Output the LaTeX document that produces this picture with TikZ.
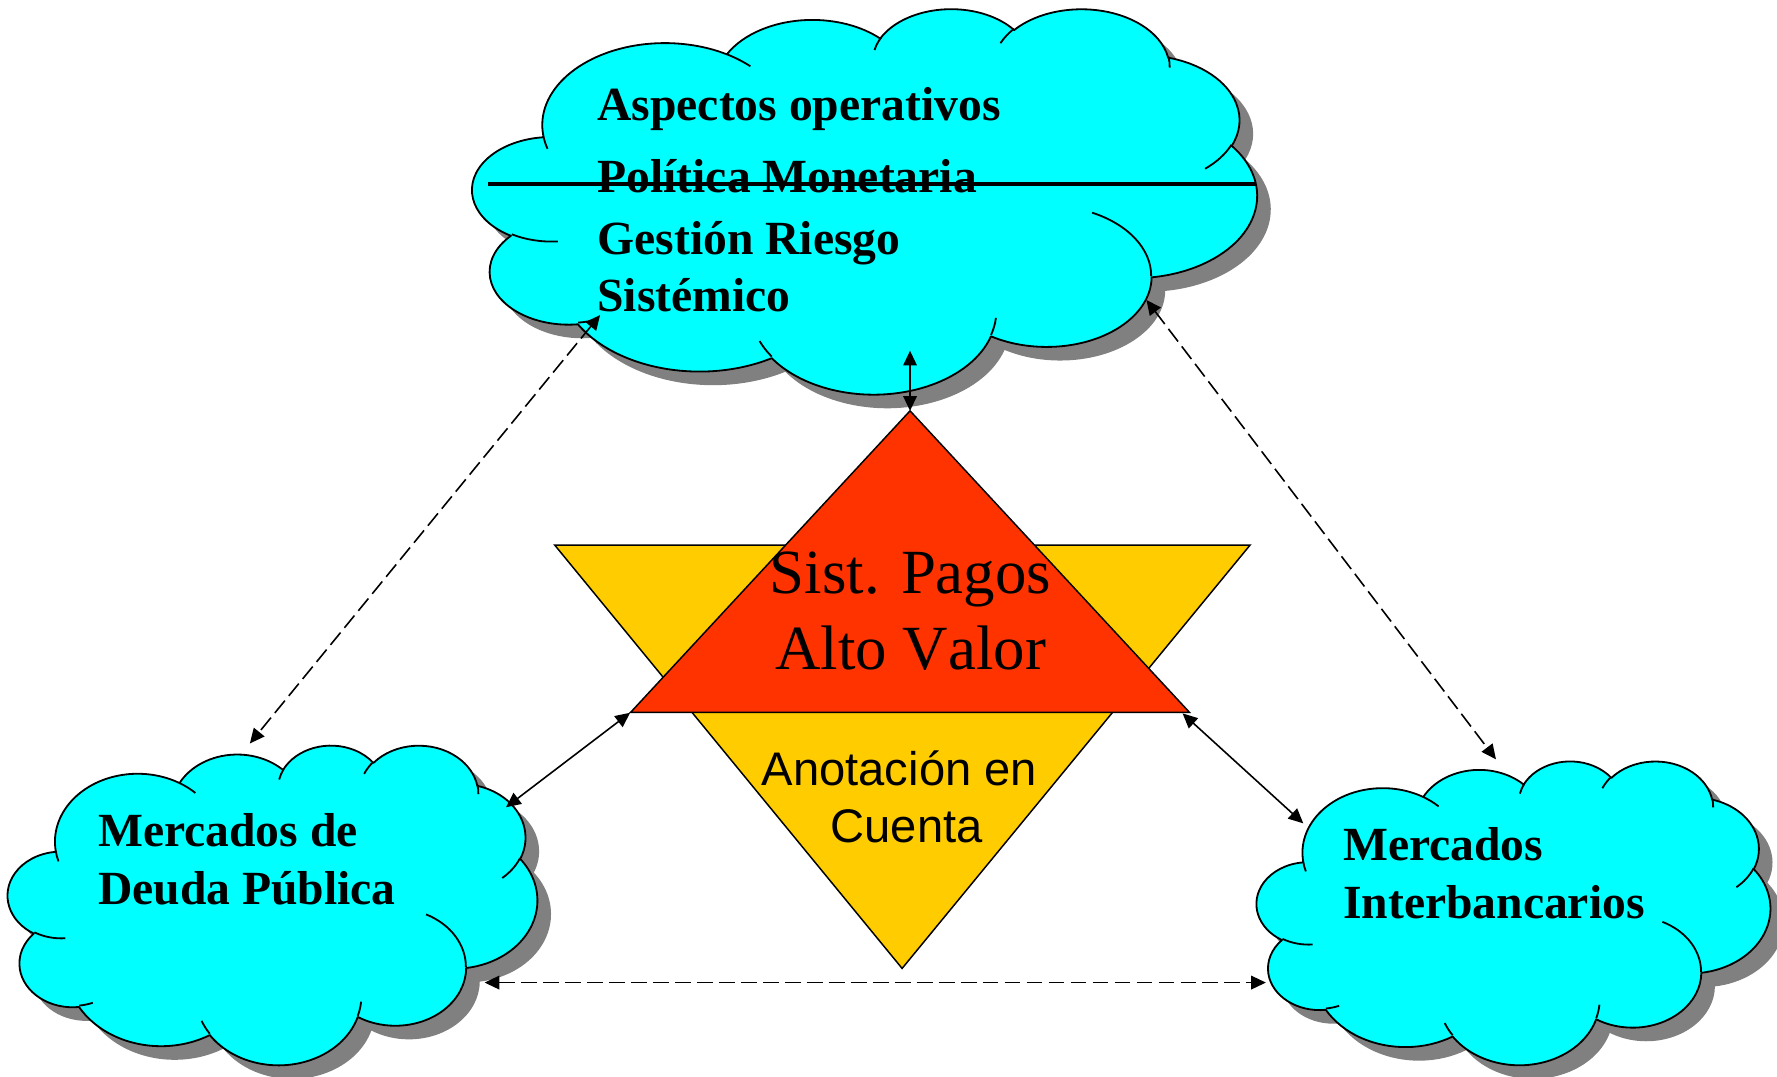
\documentclass[tikz,border=0pt]{standalone}
\usepackage{fontspec}
\setmainfont{Liberation Serif}
\newfontfamily\arialfont{Liberation Sans}
\newfontfamily\nokernserif[Kerning=Off]{Liberation Serif}
\usetikzlibrary{arrows.meta}
\definecolor{cloudcyan}{HTML}{00FFFF}
\definecolor{shadowgray}{HTML}{808080}
\definecolor{redtri}{HTML}{FF3300}
\definecolor{yellowtri}{HTML}{FFCC00}
% Office "cloud" preset geometry, path space scaled to 0..100, angles in degrees (visual)
\newcommand\mkcarc[5]{%
  \pgfmathsetmacro\cTa{atan2(#2*sin(#4),#3*cos(#4))}%
  \pgfmathsetmacro\cTb{atan2(#2*sin(#4+#5),#3*cos(#4+#5))}%
  \pgfmathsetmacro\cTd{mod(\cTb-\cTa+720,360)}%
  \tikzset{#1/.style/.expanded={start angle=\cTa, delta angle=\cTd, x radius=#2, y radius=#3}}%
}
\mkcarc{carcA}{15.632}{21.273}{-190.4875}{123.7805}
\mkcarc{carcB}{12.345}{16.822}{-144.1024}{89.9452}
\mkcarc{carcC}{10.104}{13.762}{-145.8079}{99.7230}
\mkcarc{carcD}{11.243}{15.266}{-130.9861}{117.2417}
\mkcarc{carcE}{12.345}{16.836}{-78.7089}{109.0269}
\mkcarc{carcF}{15.683}{21.343}{-46.2673}{130.2690}
\mkcarc{carcG}{13.391}{18.211}{0.6250}{114.0333}
\mkcarc{carcH}{15.630}{21.331}{22.4516}{115.1726}
\mkcarc{carcI}{17.870}{24.405}{66.2426}{75.7110}
\mkcarc{carcJ}{10.093}{13.699}{-274.9421}{146.7356}
\mkcarc{carcK}{10.058}{13.762}{-246.8285}{152.5189}
\mkcarc{cinA}{10.058}{13.762}{86.7420}{26.4295}
\mkcarc{cinB}{10.093}{13.699}{73.6105}{11.4475}
\mkcarc{cinC}{15.630}{21.331}{137.6242}{14.0811}
\mkcarc{cinD}{15.630}{21.331}{6.4533}{15.9984}
\mkcarc{cinE}{13.391}{18.211}{-70.2924}{70.9174}
\mkcarc{cinF}{12.345}{16.836}{30.3180}{27.7515}
\mkcarc{cinG}{11.243}{15.266}{-13.7443}{14.8589}
\mkcarc{cinH}{11.243}{15.266}{-149.1815}{18.1954}
\mkcarc{cinI}{10.104}{13.762}{-163.4943}{17.6864}
\mkcarc{cinJ}{15.632}{21.273}{-66.7070}{12.3194}
\mkcarc{cinK}{15.632}{21.273}{157.6544}{11.8582}
\newcommand\cloudoutline{(9.028,33.264) arc[carcA] arc[carcB] arc[carcC] arc[carcD] arc[carcE] arc[carcF] arc[carcG] arc[carcH] arc[carcI] arc[carcJ] arc[carcK] -- cycle}
\newcommand\cloudinner{(10.863,60.595) arc[cinA] (16.037,80.785) arc[cinB] (38.144,90.486) arc[cinC] (66.729,80.442) arc[cinD] (79.002,53.134) arc[cinE] (96.755,35.542) arc[cinF] (88.713,12.560) arc[cinG] (67.310,9.148) arc[cinH] (51.252,10.926) arc[cinI] (32.407,12.019) arc[cinJ] (9.553,36.549) arc[cinK]}
\newcommand\drawcloud[4]{%
  \begin{scope}[shift={(#1+12,#2+12)}, x=#3pt, y=-#4pt]
    \fill[shadowgray] \cloudoutline;
  \end{scope}
  \begin{scope}[shift={(#1,#2)}, x=#3pt, y=-#4pt]
    \draw[cloudline, fill=cloudcyan] \cloudoutline;
    \draw[cloudline] \cloudinner;
  \end{scope}
}
\begin{document}
\begin{tikzpicture}[x=1pt, y=-1pt,
  cloudline/.style={line width=1.6pt, line join=round},
  tri/.style={line width=1.3pt, line join=miter},
  conn/.style={line width=1.4pt, {Triangle[length=13pt,width=12pt]}-{Triangle[length=13pt,width=12pt]}},
  dashconn/.style={conn, dash pattern=on 14pt off 5.4pt},
  cloudtxt/.style={inner sep=0pt, anchor=base west, font=\fontsize{42}{50}\selectfont\bfseries},
  bigtxt/.style={inner sep=0pt, anchor=base, font=\nokernserif\fontsize{55.5}{66}\selectfont},
  sanstxt/.style={inner sep=0pt, anchor=base, font=\arialfont\fontsize{41.6}{50}\selectfont}]
\useasboundingbox (0,0) rectangle (1568,950.3);

% clouds
\drawcloud{417}{7}{6.92}{3.40}
\drawcloud{7}{657}{4.67}{2.82}
\drawcloud{1109}{671}{4.53}{2.68}

% strike line in top cloud
\coordinate (strikeL) at (431,162.5);
\coordinate (strikeR) at (1108,162.5);
\draw[line width=4pt] (strikeL) -- (strikeR);

% top cloud text
\node[cloudtxt] (asp) at (527,106.5) {Aspectos operativos};
\node[cloudtxt] (pol) at (527,170) {Política Monetaria};
\node[cloudtxt] (ges) at (527,225) {Gestión Riesgo};
\node[cloudtxt] (sis) at (527,275) {Sistémico};

% bottom clouds text
\node[cloudtxt] (mer1) at (86.5,747) {Mercados de};
\node[cloudtxt] (deu) at (86.5,797.7) {Deuda Pública};
\node[cloudtxt] (mer2) at (1185,759.5) {Mercados};
\node[cloudtxt] (int) at (1185,810.9) {Interbancarios};

% triangles
\coordinate (yTL) at (489.5,481);
\coordinate (yTR) at (1103,481);
\coordinate (yB) at (796,854.5);
\coordinate (rA) at (803,362.5);
\coordinate (rL) at (556.5,628.5);
\coordinate (rR) at (1049.5,628.5);
\draw[tri, fill=yellowtri] (yTL) -- (yTR) -- (yB) -- cycle;
\draw[tri, fill=redtri] (rA) -- (rL) -- (rR) -- cycle;

\node[bigtxt] (sp) at (803.5,523.5) {Sist. Pagos};
\node[bigtxt] (av) at (803.5,590.9) {Alto Valor};
\node[sanstxt] (an) at (793.6,692.8) {Anotación en};
\node[sanstxt] (cu) at (800,743.5) {Cuenta};

% connector end points
\coordinate (topV) at (803,309.5);
\coordinate (topL) at (529.5,278);
\coordinate (topR) at (1011.6,264.7);
\coordinate (blT) at (220.5,656);
\coordinate (blR) at (446.5,712.3);
\coordinate (blH) at (427.6,867);
\coordinate (brT) at (1320,670);
\coordinate (brL) at (1150,726.5);
\coordinate (brH) at (1117,867);
\coordinate (rLa) at (556,628.9);
\coordinate (rRa) at (1043.5,629.5);

% connectors
\draw[conn] (topV) -- (rA);
\draw[dashconn] (topL) -- (blT);
\draw[dashconn] (topR) -- (brT);
\draw[conn] (rLa) -- (blR);
\draw[conn] (rRa) -- (brL);
\draw[dashconn] (blH) -- (brH);
\end{tikzpicture}
\end{document}
